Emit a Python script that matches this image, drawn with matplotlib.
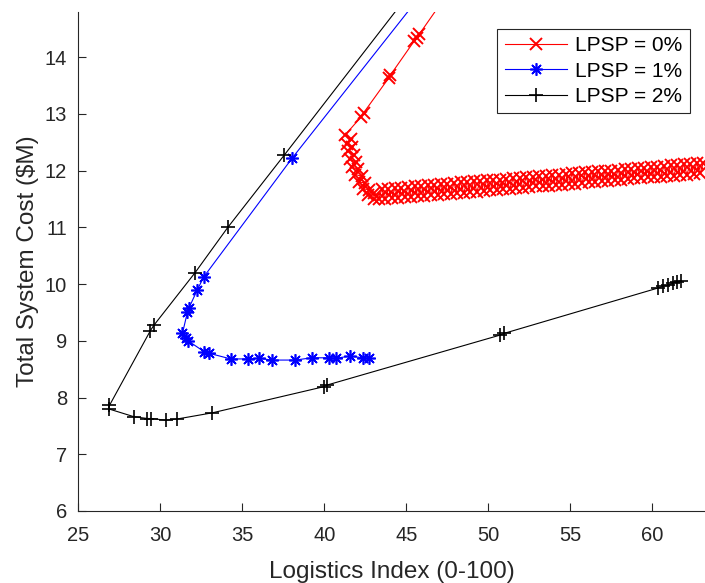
import matplotlib
matplotlib.use("Agg")
import matplotlib.pyplot as plt

plt.rcParams.update({
    "font.family": ["Liberation Sans", "DejaVu Sans"],
    "font.size": 14.5,
    "axes.labelsize": 17.5,
    "xtick.labelsize": 14.5,
    "ytick.labelsize": 14.5,
    "legend.fontsize": 15,
})

# LPSP = 0%
red_x = [48.0, 45.78, 45.62, 45.47, 44.02, 43.92, 42.40, 42.25,
         41.28, 41.62, 41.35, 41.70, 41.45, 41.80, 41.55, 41.92, 41.70, 42.08,
         41.88, 42.28, 42.10, 42.50, 42.35, 42.75, 42.65, 43.05, 43.00,
         43.3, 43.5, 43.7, 43.9, 44.1, 44.3, 44.5, 44.7, 44.9, 45.1,
         45.3, 45.5, 45.7, 45.9, 46.1, 46.3, 46.5, 46.7, 46.9, 47.1,
         47.3, 47.5, 47.7, 47.9, 48.1, 48.3, 48.5, 48.7, 48.9, 49.1,
         49.3, 49.5, 49.7, 49.9, 50.1, 50.3, 50.5, 50.7, 50.9, 51.1,
         51.3, 51.5, 51.7, 51.9, 52.1, 52.3, 52.5, 52.7, 52.9, 53.1,
         53.3, 53.5, 53.7, 53.9, 54.1, 54.3, 54.5, 54.7, 54.9, 55.1,
         55.3, 55.5, 55.7, 55.9, 56.1, 56.3, 56.5, 56.7, 56.9, 57.1,
         57.3, 57.5, 57.7, 57.9, 58.1, 58.3, 58.5, 58.7, 58.9, 59.1,
         59.3, 59.5, 59.7, 59.9, 60.1, 60.3, 60.5, 60.7, 60.9, 61.1,
         61.3, 61.5, 61.7, 61.9, 62.1, 62.3, 62.5, 62.7, 62.9, 63.1]
red_y = [15.32, 14.40, 14.34, 14.28, 13.68, 13.63, 13.02, 12.95,
         12.63, 12.55, 12.47, 12.42, 12.34, 12.28, 12.20, 12.15, 12.06, 12.02,
         11.93, 11.90, 11.80, 11.78, 11.68, 11.66, 11.57, 11.60, 11.50,
         11.49, 11.67, 11.50, 11.68, 11.51, 11.69, 11.52, 11.70, 11.53, 11.71,
         11.54, 11.72, 11.55, 11.73, 11.56, 11.74, 11.57, 11.75, 11.57, 11.76,
         11.58, 11.77, 11.59, 11.78, 11.60, 11.79, 11.61, 11.80, 11.62, 11.81,
         11.63, 11.82, 11.64, 11.83, 11.65, 11.83, 11.66, 11.84, 11.67, 11.85,
         11.68, 11.86, 11.69, 11.87, 11.70, 11.88, 11.71, 11.89, 11.72, 11.90,
         11.73, 11.91, 11.73, 11.92, 11.74, 11.93, 11.75, 11.94, 11.76, 11.95,
         11.77, 11.96, 11.78, 11.97, 11.79, 11.98, 11.80, 11.99, 11.81, 11.99,
         11.82, 12.00, 11.83, 12.01, 11.84, 12.02, 11.85, 12.03, 11.86, 12.04,
         11.87, 12.05, 11.88, 12.06, 11.89, 12.07, 11.89, 12.08, 11.90, 12.09,
         11.91, 12.10, 11.92, 12.11, 11.93, 12.12, 11.94, 12.13, 11.95, 12.14]

# LPSP = 1%
blue_x = [47.0, 38.04, 32.66, 32.26, 31.75, 31.65, 31.35, 31.55, 31.69,
          32.66, 32.97, 34.29, 35.36, 36.01, 36.83, 38.24, 39.22,
          40.27, 40.68, 41.55, 42.36, 42.70]
blue_y = [15.50, 12.22, 10.13, 9.90, 9.58, 9.50, 9.13, 9.05, 9.00,
          8.81, 8.78, 8.68, 8.68, 8.69, 8.66, 8.66, 8.70,
          8.70, 8.69, 8.73, 8.70, 8.69]

# LPSP = 2%
black_x = [47.0, 37.55, 34.12, 32.12, 29.60, 29.40, 26.90, 26.85,
           28.41, 29.22, 29.46, 30.33, 31.00, 33.17, 39.96, 40.17,
           50.71, 50.95, 60.34, 60.65, 60.95, 61.22, 61.52, 61.75]
black_y = [15.80, 12.27, 11.00, 10.20, 9.27, 9.18, 7.86, 7.80,
           7.66, 7.63, 7.63, 7.60, 7.62, 7.73, 8.19, 8.22,
           9.10, 9.13, 9.93, 9.96, 9.98, 10.01, 10.04, 10.06]

fig = plt.figure(figsize=(7.05, 5.83), dpi=100)
ax = fig.add_axes([0.111, 0.1235, 0.889, 0.8565])

ax.plot(red_x, red_y, color="#ff0000", marker="x", markersize=8.5,
        markeredgewidth=1.4, linewidth=0.8, label="LPSP = 0%")
ax.plot(blue_x, blue_y, color="#0000ff", marker=(8, 2, 0), markersize=9,
        markeredgewidth=1.2, linewidth=0.8, label="LPSP = 1%")
ax.plot(black_x, black_y, color="#000000", marker="+", markersize=10,
        markeredgewidth=1.2, linewidth=0.8, label="LPSP = 2%")

ax.set_xlim(25, 63.2)
ax.set_ylim(6, 14.8)
ax.set_xticks([25, 30, 35, 40, 45, 50, 55, 60])
ax.set_yticks([6, 7, 8, 9, 10, 11, 12, 13, 14])

for side in ["top", "right"]:
    ax.spines[side].set_visible(False)
for side in ["left", "bottom"]:
    ax.spines[side].set_color("#262626")
    ax.spines[side].set_linewidth(0.8)
ax.tick_params(direction="in", length=6, width=0.8, colors="#262626",
               labelcolor="#262626")
ax.tick_params(axis="x", pad=11)
ax.tick_params(axis="y", pad=8)

ax.set_xlabel("Logistics Index (0-100)", color="#262626", labelpad=11)
ax.set_ylabel("Total System Cost ($M)", color="#262626", labelpad=4)

leg = ax.legend(loc="upper right", bbox_to_anchor=(0.976, 0.965),
                borderaxespad=0, handlelength=3.0, handletextpad=0.4,
                fancybox=False, framealpha=1, edgecolor="#262626",
                labelspacing=0.3, borderpad=0.35)
leg.get_frame().set_linewidth(0.8)

fig.savefig("out.png", dpi=100)
